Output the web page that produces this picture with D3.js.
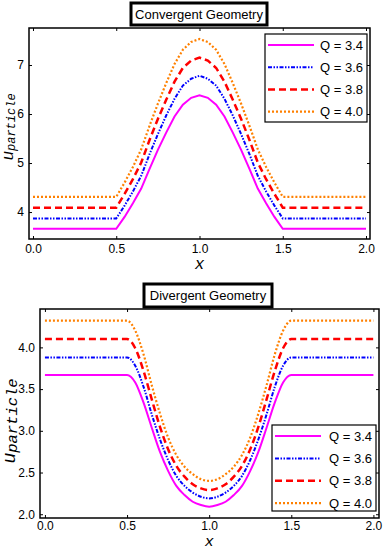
<!DOCTYPE html>
<html>
<head>
<meta charset="utf-8">
<script src="https://cdn.jsdelivr.net/npm/d3@7"></script>
<style>
  body { margin: 0; background: #fff; }
  svg { display: block; }
</style>
</head>
<body>
<svg id="chart" width="385" height="550"></svg>
<script>
var xs = [0, 0.5, 0.55, 0.6, 0.65, 0.7, 0.75, 0.8, 0.85, 0.9, 0.95, 1.0,
          1.05, 1.1, 1.15, 1.2, 1.25, 1.3, 1.35, 1.4, 1.45, 1.5, 2.0];

var labels = ["Q = 3.4", "Q = 3.6", "Q = 3.8", "Q = 4.0"];

// convergent geometry
var conv34 = [3.66, 3.66, 3.90, 4.18, 4.48, 4.88, 5.27, 5.62, 5.95, 6.19, 6.33, 6.38, 6.33, 6.19, 5.95, 5.62, 5.27, 4.88, 4.48, 4.18, 3.90, 3.66, 3.66];
var conv36 = [3.87, 3.87, 4.13, 4.42, 4.74, 5.18, 5.59, 5.97, 6.31, 6.58, 6.72, 6.78, 6.72, 6.58, 6.31, 5.97, 5.59, 5.18, 4.74, 4.42, 4.13, 3.87, 3.87];
var conv38 = [4.09, 4.09, 4.37, 4.67, 5.01, 5.47, 5.90, 6.29, 6.66, 6.94, 7.09, 7.15, 7.09, 6.94, 6.66, 6.29, 5.90, 5.47, 5.01, 4.67, 4.37, 4.09, 4.09];
var conv40 = [4.31, 4.31, 4.60, 4.92, 5.28, 5.76, 6.21, 6.63, 7.02, 7.31, 7.47, 7.53, 7.47, 7.31, 7.02, 6.63, 6.21, 5.76, 5.28, 4.92, 4.60, 4.31, 4.31];

// divergent geometry
var div34 = [3.67, 3.67, 3.58, 3.34, 3.04, 2.75, 2.52, 2.34, 2.23, 2.15, 2.11, 2.09, 2.11, 2.15, 2.23, 2.34, 2.52, 2.75, 3.04, 3.34, 3.58, 3.67, 3.67];
var div36 = [3.88, 3.88, 3.78, 3.53, 3.20, 2.90, 2.65, 2.46, 2.34, 2.26, 2.21, 2.19, 2.21, 2.26, 2.34, 2.46, 2.65, 2.90, 3.20, 3.53, 3.78, 3.88, 3.88];
var div38 = [4.10, 4.10, 3.99, 3.72, 3.38, 3.05, 2.78, 2.58, 2.45, 2.36, 2.31, 2.29, 2.31, 2.36, 2.45, 2.58, 2.78, 3.05, 3.38, 3.72, 3.99, 4.10, 4.10];
var div40 = [4.32, 4.32, 4.20, 3.92, 3.55, 3.21, 2.92, 2.71, 2.57, 2.48, 2.42, 2.40, 2.42, 2.48, 2.57, 2.71, 2.92, 3.21, 3.55, 3.92, 4.20, 4.32, 4.32];

var xTicks = [0, 0.5, 1.0, 1.5, 2.0];
var convYTicks = [4, 5, 6, 7];
var divYTicks = [2.0, 2.5, 3.0, 3.5, 4.0];

var styles = [
    { color: "#ff00ff", width: 2, dash: null },
    { color: "#0000ff", width: 2, dash: "4,1.5,1.5,1.5,1.5,1.5" },
    { color: "#ff0000", width: 2.5, dash: "7,4" },
    { color: "#ff8000", width: 2.2, dash: "2,2" }
];

var sans = "Liberation Sans, Arial, sans-serif";
var mono = "Liberation Mono, Courier New, monospace";

var svg = d3.select("#chart");

function drawPanel(cfg) {
    var x = d3.scaleLinear().domain(cfg.xDomain).range([cfg.left, cfg.right]);
    var y = d3.scaleLinear().domain(cfg.yDomain).range([cfg.bottom, cfg.top]);
    var g = svg.append("g");

    var line = d3.line()
        .x(d => x(d[0]))
        .y(d => y(d[1]))
        .curve(cfg.curve);

    var clipId = "clip" + cfg.id;
    svg.append("clipPath").attr("id", clipId)
        .append("rect")
        .attr("x", cfg.left).attr("y", cfg.top)
        .attr("width", cfg.right - cfg.left).attr("height", cfg.bottom - cfg.top);

    cfg.series.forEach(function(s, i) {
        g.append("path")
            .datum(xs.map((v, j) => [v, s[j]]))
            .attr("clip-path", "url(#" + clipId + ")")
            .attr("fill", "none")
            .attr("stroke", styles[i].color)
            .attr("stroke-width", styles[i].width)
            .attr("stroke-dasharray", styles[i].dash)
            .attr("d", line);
    });

    // frame with inward ticks
    var axB = g.append("g").attr("transform", "translate(0," + cfg.bottom + ")")
        .call(d3.axisBottom(x).tickValues(xTicks).tickFormat(d3.format(".1f")).tickSizeInner(-3).tickSizeOuter(0).tickPadding(cfg.xPad));
    var axT = g.append("g").attr("transform", "translate(0," + cfg.top + ")")
        .call(d3.axisTop(x).tickValues(xTicks).tickFormat("").tickSizeInner(-3).tickSizeOuter(0));
    var axL = g.append("g").attr("transform", "translate(" + cfg.left + ",0)")
        .call(d3.axisLeft(y).tickValues(cfg.yTicks).tickFormat(d3.format(cfg.yFormat)).tickSizeInner(-3).tickSizeOuter(0).tickPadding(5));
    var axR = g.append("g").attr("transform", "translate(" + cfg.right + ",0)")
        .call(d3.axisRight(y).tickValues(cfg.yTicks).tickFormat("").tickSizeInner(-3).tickSizeOuter(0));
    [axB, axT, axL, axR].forEach(function(a) {
        a.select(".domain").remove();
        a.selectAll("text").style("font-family", sans)
            .style("font-size", "12px").attr("fill", "#000");
        a.selectAll("line").attr("stroke", "#000");
    });

    g.append("rect")
        .attr("x", cfg.left).attr("y", cfg.top)
        .attr("width", cfg.right - cfg.left).attr("height", cfg.bottom - cfg.top)
        .attr("fill", "none").attr("stroke", "#000").attr("stroke-width", 1.5);

    // title box
    var tb = cfg.titleBox;
    g.append("rect")
        .attr("x", tb[0]).attr("y", tb[1]).attr("width", tb[2] - tb[0]).attr("height", tb[3] - tb[1])
        .attr("fill", "#fff").attr("stroke", "#000").attr("stroke-width", 3);
    g.append("text")
        .attr("x", (tb[0] + tb[2]) / 2).attr("y", (tb[1] + tb[3]) / 2 + 4.5)
        .attr("text-anchor", "middle")
        .style("font-family", sans).style("font-size", "13px")
        .text(cfg.title);

    // axis labels
    g.append("text")
        .attr("x", x(1.0)).attr("y", cfg.xLabelY)
        .attr("text-anchor", "middle")
        .style("font-family", mono).style("font-style", "italic")
        .style("font-size", cfg.xLabelSize + "px")
        .text("x");

    var yl = g.append("text")
        .attr("transform", "translate(" + cfg.yLabelX + "," + cfg.yLabelY + ") rotate(-90)")
        .attr("text-anchor", "middle")
        .style("font-family", mono).style("font-style", "italic");
    yl.append("tspan").style("font-size", cfg.uSize + "px").text("u");
    yl.append("tspan").style("font-size", cfg.subSize + "px").attr("dy", 2).text("particle");

    // legend
    var lb = cfg.legendBox;
    g.append("rect")
        .attr("x", lb[0]).attr("y", lb[1]).attr("width", lb[2] - lb[0]).attr("height", lb[3] - lb[1])
        .attr("fill", "#fff").attr("stroke", "#000").attr("stroke-width", 1.2);
    labels.forEach(function(lab, i) {
        var ly = cfg.legendY0 + i * cfg.legendStep;
        g.append("line")
            .attr("x1", lb[0] + 3).attr("x2", lb[0] + 49)
            .attr("y1", ly).attr("y2", ly)
            .attr("stroke", styles[i].color)
            .attr("stroke-width", styles[i].width)
            .attr("stroke-dasharray", styles[i].dash);
        g.append("text")
            .attr("x", lb[2] - 4).attr("y", ly + 4.5)
            .attr("text-anchor", "end")
            .style("font-family", sans).style("font-size", "13px")
            .text(lab);
    });
}

drawPanel({
    id: 1, curve: d3.curveLinear,
    left: 29, right: 370, top: 28, bottom: 239,
    xDomain: [-0.024, 2.024], yDomain: [3.45, 7.755],
    yTicks: convYTicks, yFormat: "d", xPad: 5,
    series: [conv34, conv36, conv38, conv40],
    title: "Convergent Geometry", titleBox: [131, 3, 267, 25],
    xLabelY: 269, xLabelSize: 16, yLabelX: 13, yLabelY: 127, uSize: 16, subSize: 12,
    legendBox: [265, 34, 367, 122], legendY0: 45, legendStep: 22.2
});

drawPanel({
    id: 2, curve: d3.curveMonotoneX,
    left: 40, right: 379, top: 309, bottom: 518,
    xDomain: [-0.03, 2.034], yDomain: [1.955, 4.46],
    yTicks: divYTicks, yFormat: ".1f", xPad: 3,
    series: [div34, div36, div38, div40],
    title: "Divergent Geometry", titleBox: [144, 284, 272, 307],
    xLabelY: 546, xLabelSize: 15, yLabelX: 15, yLabelY: 421, uSize: 18, subSize: 15.5,
    legendBox: [272, 425, 376, 511], legendY0: 436, legendStep: 22.4
});
</script>
</body>
</html>
